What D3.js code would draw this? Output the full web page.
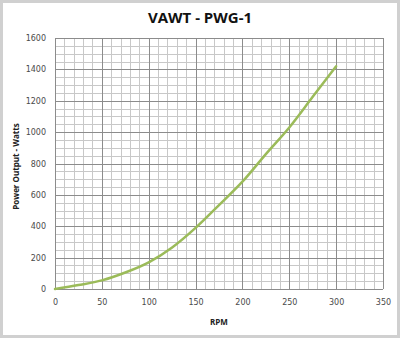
<!DOCTYPE html>
<html>
<head>
<meta charset="utf-8">
<script src="https://cdn.jsdelivr.net/npm/d3@7/dist/d3.min.js"></script>
<style>
  html, body { margin: 0; padding: 0; background: #fff; }
  svg { display: block; }
</style>
</head>
<body>
<svg id="chart" width="400" height="338"></svg>
<script>
// Power curve of the PWG-1 vertical-axis wind turbine
const rpm   = [0, 25, 50, 75, 100, 125, 150, 175, 200, 225, 250, 275, 300];
const watts = [0, 25, 55, 105, 170, 265, 390, 535, 684, 860, 1030, 1225, 1420];

const xTicks = [0, 50, 100, 150, 200, 250, 300, 350];
const yTicks = [0, 200, 400, 600, 800, 1000, 1200, 1400, 1600];
const xMinor = d3.range(0, 351, 10);
const yMinor = d3.range(0, 1601, 50);

const titleText = "VAWT - PWG-1";
const xTitle = "RPM";
const yTitle = "Power Output - Watts";

const svg = d3.select("#chart");
const W = 400, H = 338;
const plot = { left: 55, right: 383, top: 38, bottom: 289 };

// outer frame
svg.append("rect")
  .attr("x", 1.5).attr("y", 1.5)
  .attr("width", W - 3).attr("height", H - 3)
  .attr("fill", "#fff").attr("stroke", "#d0d0d0").attr("stroke-width", 3);

const x = d3.scaleLinear().domain([0, 350]).range([plot.left, plot.right]);
const y = d3.scaleLinear().domain([0, 1600]).range([plot.bottom, plot.top]);

// minor grid
const grid = svg.append("g").attr("shape-rendering", "crispEdges");
grid.selectAll(".vminor").data(xMinor).join("line")
  .attr("x1", d => Math.round(x(d)) + 0.5).attr("x2", d => Math.round(x(d)) + 0.5)
  .attr("y1", plot.top).attr("y2", plot.bottom)
  .attr("stroke", "#c8c8c8").attr("stroke-width", 1);
grid.selectAll(".hminor").data(yMinor).join("line")
  .attr("y1", d => Math.round(y(d)) + 0.5).attr("y2", d => Math.round(y(d)) + 0.5)
  .attr("x1", plot.left).attr("x2", plot.right)
  .attr("stroke", "#c8c8c8").attr("stroke-width", 1);

// major grid
grid.selectAll(".vmajor").data(xTicks).join("line")
  .attr("x1", d => Math.round(x(d)) + 0.5).attr("x2", d => Math.round(x(d)) + 0.5)
  .attr("y1", plot.top).attr("y2", plot.bottom)
  .attr("stroke", "#8c8c8c").attr("stroke-width", 1);
grid.selectAll(".hmajor").data(yTicks).join("line")
  .attr("y1", d => Math.round(y(d)) + 0.5).attr("y2", d => Math.round(y(d)) + 0.5)
  .attr("x1", plot.left).attr("x2", plot.right)
  .attr("stroke", "#8c8c8c").attr("stroke-width", 1);

// axes (labels only; lines come from the grid)
const xAxis = svg.append("g")
  .attr("transform", `translate(0,${plot.bottom})`)
  .call(d3.axisBottom(x).tickValues(xTicks).tickFormat(d3.format("d")).tickSize(0).tickPadding(10));
const yAxis = svg.append("g")
  .attr("transform", `translate(${plot.left},0)`)
  .call(d3.axisLeft(y).tickValues(yTicks).tickFormat(d3.format("d")).tickSize(0).tickPadding(9));
[xAxis, yAxis].forEach(a => {
  a.select(".domain").remove();
  a.selectAll("text")
    .attr("font-family", "'DejaVu Sans', sans-serif")
    .attr("font-size", 8)
    .attr("fill", "#4a4a4a");
});

// data line
const line = d3.line()
  .x((d, i) => x(rpm[i]))
  .y(d => y(d))
  .curve(d3.curveMonotoneX);
svg.append("path")
  .datum(watts)
  .attr("d", line)
  .attr("fill", "none")
  .attr("stroke", "#9bbb59")
  .attr("stroke-width", 2.5)
  .attr("stroke-linecap", "round");

// titles
svg.append("text")
  .attr("x", 200).attr("y", 23)
  .attr("text-anchor", "middle")
  .attr("font-family", "'Open Sans', sans-serif")
  .attr("font-weight", "bold")
  .attr("font-size", 15)
  .attr("fill", "#111")
  .text(titleText);

svg.append("text")
  .attr("x", (plot.left + plot.right) / 2).attr("y", 325)
  .attr("text-anchor", "middle")
  .attr("font-family", "'Open Sans', sans-serif")
  .attr("font-weight", "bold")
  .attr("font-size", 8)
  .attr("fill", "#222")
  .text(xTitle);

svg.append("text")
  .attr("transform", `translate(19,${(plot.top + plot.bottom) / 2 + 3}) rotate(-90)`)
  .attr("text-anchor", "middle")
  .attr("font-family", "'Open Sans', sans-serif")
  .attr("font-weight", "bold")
  .attr("font-size", 8)
  .attr("fill", "#222")
  .text(yTitle);
</script>
</body>
</html>
